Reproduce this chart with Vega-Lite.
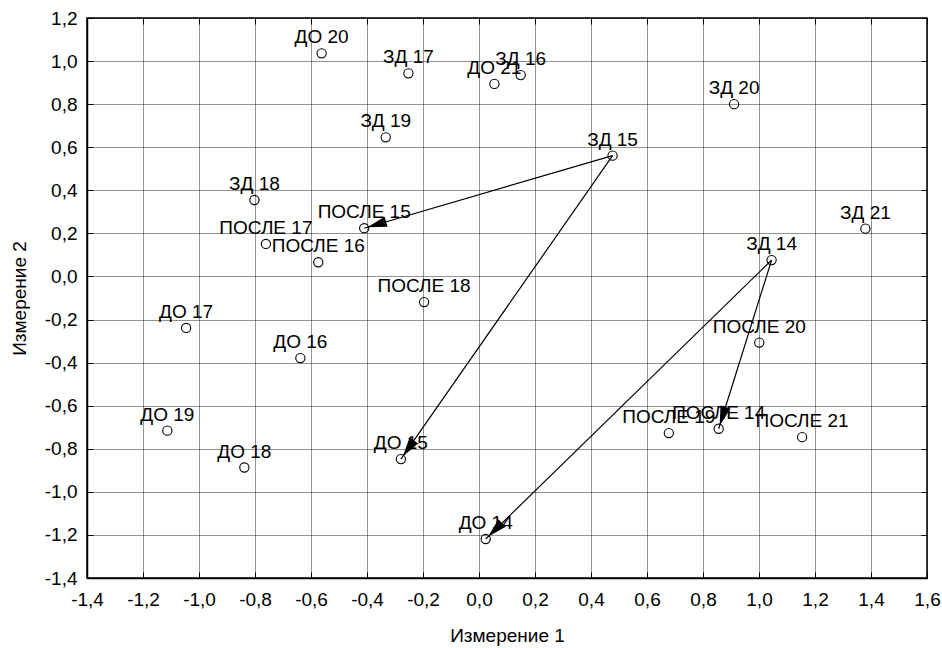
{
  "$schema": "https://vega.github.io/schema/vega-lite/v6.json",
  "width": 840,
  "height": 560,
  "autosize": {"type": "none"},
  "padding": {"left": 87, "top": 18, "right": 15, "bottom": 70},
  "background": "white",
  "config": {
    "view": {"stroke": "black", "strokeWidth": 1.5},
    "font": "Liberation Sans",
    "axis": {
      "labelFont": "Liberation Sans",
      "labelFontSize": 19,
      "labelColor": "black",
      "titleFont": "Liberation Sans",
      "titleFontSize": 19,
      "titleFontWeight": "normal",
      "titleColor": "black",
      "domainColor": "black",
      "domainWidth": 1.5,
      "tickColor": "black",
      "tickWidth": 1
    }
  },
  "datasets": {
    "points": [
      {"name": "ДО 14", "x": 0.024, "y": -1.219},
      {"name": "ДО 15", "x": -0.279, "y": -0.848},
      {"name": "ДО 16", "x": -0.638, "y": -0.379},
      {"name": "ДО 17", "x": -1.046, "y": -0.239},
      {"name": "ДО 18", "x": -0.838, "y": -0.887},
      {"name": "ДО 19", "x": -1.113, "y": -0.716},
      {"name": "ДО 20", "x": -0.562, "y": 1.036},
      {"name": "ДО 21", "x": 0.055, "y": 0.894},
      {"name": "ЗД 14", "x": 1.045, "y": 0.076},
      {"name": "ЗД 15", "x": 0.477, "y": 0.561},
      {"name": "ЗД 16", "x": 0.149, "y": 0.935},
      {"name": "ЗД 17", "x": -0.252, "y": 0.943},
      {"name": "ЗД 18", "x": -0.802, "y": 0.355},
      {"name": "ЗД 19", "x": -0.333, "y": 0.646},
      {"name": "ЗД 20", "x": 0.911, "y": 0.8},
      {"name": "ЗД 21", "x": 1.38, "y": 0.222},
      {"name": "ПОСЛЕ 14", "x": 0.856, "y": -0.707},
      {"name": "ПОСЛЕ 15", "x": -0.41, "y": 0.224},
      {"name": "ПОСЛЕ 16", "x": -0.574, "y": 0.066},
      {"name": "ПОСЛЕ 17", "x": -0.761, "y": 0.151},
      {"name": "ПОСЛЕ 18", "x": -0.196, "y": -0.119},
      {"name": "ПОСЛЕ 19", "x": 0.678, "y": -0.727},
      {"name": "ПОСЛЕ 20", "x": 1.001, "y": -0.307},
      {"name": "ПОСЛЕ 21", "x": 1.154, "y": -0.746}
    ],
    "arrows": [
      {"from": "ЗД 15", "to": "ПОСЛЕ 15", "x1": 0.477, "y1": 0.561, "x2": -0.41, "y2": 0.224},
      {"from": "ЗД 15", "to": "ДО 15", "x1": 0.477, "y1": 0.561, "x2": -0.279, "y2": -0.848},
      {"from": "ЗД 14", "to": "ДО 14", "x1": 1.045, "y1": 0.076, "x2": 0.024, "y2": -1.219},
      {"from": "ЗД 14", "to": "ПОСЛЕ 14", "x1": 1.045, "y1": 0.076, "x2": 0.856, "y2": -0.707}
    ]
  },
  "resolve": {"axis": {"x": "independent", "y": "independent"}},
  "layer": [
    {
      "data": {"name": "arrows"},
      "mark": {"type": "rule", "color": "black", "strokeWidth": 1.2},
      "encoding": {
        "x": {
          "field": "x1", "type": "quantitative",
          "scale": {"domain": [-1.4, 1.6], "nice": false, "zero": false},
          "axis": {
            "title": "Измерение 1",
            "values": [-1.4, -1.2, -1.0, -0.8, -0.6, -0.4, -0.2, 0, 0.2, 0.4, 0.6, 0.8, 1.0, 1.2, 1.4, 1.6],
            "labelExpr": "replace(replace(format(datum.value, '.1f'), '.', ','), '−', '-')",
            "tickSize": -6,
            "labelPadding": 18,
            "titlePadding": 17,
            "grid": true,
            "gridColor": "black",
            "gridDash": [1, 1],
            "gridOpacity": 0.85,
            "labelFlush": false,
            "labelOverlap": false
          }
        },
        "y": {
          "field": "y1", "type": "quantitative",
          "scale": {"domain": [-1.4, 1.2], "nice": false, "zero": false},
          "axis": {
            "title": "Измерение 2",
            "values": [-1.4, -1.2, -1.0, -0.8, -0.6, -0.4, -0.2, 0, 0.2, 0.4, 0.6, 0.8, 1.0, 1.2],
            "labelExpr": "replace(replace(format(datum.value, '.1f'), '.', ','), '−', '-')",
            "tickSize": -6,
            "labelPadding": 16,
            "titlePadding": 15,
            "grid": true,
            "gridColor": "black",
            "gridDash": [1, 1],
            "gridOpacity": 0.85,
            "labelFlush": false,
            "labelOverlap": false
          }
        },
        "x2": {"field": "x2"},
        "y2": {"field": "y2"}
      }
    },
    {
      "data": {"name": "points"},
      "mark": {"type": "point", "shape": "circle", "filled": false, "stroke": "black", "strokeWidth": 1.1, "size": 85, "opacity": 1},
      "encoding": {
        "x": {
          "field": "x", "type": "quantitative",
          "scale": {"domain": [-1.4, 1.6], "nice": false, "zero": false},
          "axis": {
            "orient": "top", "title": null, "labels": false, "domain": false, "grid": false,
            "values": [-1.4, -1.2, -1.0, -0.8, -0.6, -0.4, -0.2, 0, 0.2, 0.4, 0.6, 0.8, 1.0, 1.2, 1.4, 1.6],
            "tickSize": -6
          }
        },
        "y": {
          "field": "y", "type": "quantitative",
          "scale": {"domain": [-1.4, 1.2], "nice": false, "zero": false},
          "axis": {
            "orient": "right", "title": null, "labels": false, "domain": false, "grid": false,
            "values": [-1.4, -1.2, -1.0, -0.8, -0.6, -0.4, -0.2, 0, 0.2, 0.4, 0.6, 0.8, 1.0, 1.2],
            "tickSize": -6
          }
        }
      }
    },
    {
      "data": {"name": "points"},
      "mark": {"type": "text", "font": "Liberation Sans", "fontSize": 19, "color": "black", "align": "center", "baseline": "alphabetic", "dy": -10},
      "encoding": {
        "x": {"field": "x", "type": "quantitative", "axis": null},
        "y": {"field": "y", "type": "quantitative", "axis": null},
        "text": {"field": "name"}
      }
    },
    {
      "data": {"name": "arrows"},
      "transform": [
        {"calculate": "atan2((datum.x2 - datum.x1) * 280, (datum.y2 - datum.y1) * 215.4) * 180 / PI", "as": "ang"}
      ],
      "mark": {"type": "point", "shape": "M0,0.5L-0.8,3.5L0.8,3.5Z", "filled": true, "color": "black", "size": 170, "opacity": 1},
      "encoding": {
        "x": {"field": "x2", "type": "quantitative", "axis": null},
        "y": {"field": "y2", "type": "quantitative", "axis": null},
        "angle": {"field": "ang", "type": "quantitative", "scale": null}
      }
    }
  ]
}
